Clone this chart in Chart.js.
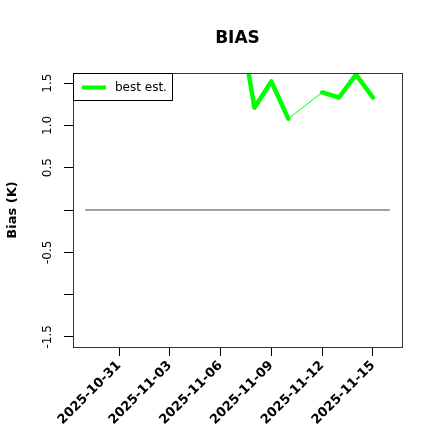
<!DOCTYPE html>
<html>
<head>
<meta charset="utf-8">
<script src="https://cdn.jsdelivr.net/npm/chart.js@4/dist/chart.umd.min.js"></script>
<style>
  html, body { margin: 0; padding: 0; background: #fff; }
  #wrap { width: 440px; height: 440px; }
</style>
</head>
<body>
<div id="wrap"><canvas id="biasChart" width="440" height="440"></canvas></div>
<script>
// data
const estDates = ['2025-11-07', '2025-11-08', '2025-11-09', '2025-11-10', '2025-11-11',
                  '2025-11-12', '2025-11-13', '2025-11-14', '2025-11-15'];
const estValues = [2.4, 1.21, 1.52, 1.08, null, 1.39, 1.33, 1.60, 1.33];
const zeroDates = ['2025-10-29', '2025-11-16'];
const zeroValues = [0, 0];
const xTickLabels = ['2025-10-31', '2025-11-03', '2025-11-06', '2025-11-09', '2025-11-12', '2025-11-15'];
const yTickValues = [-1.5, -1, -0.5, 0, 0.5, 1, 1.5];
const yTickLabels = ['-1.5', '', '-0.5', '', '0.5', '1.0', '1.5'];

const FONT = 'DejaVu Sans';
const dayNum = s => Date.parse(s + 'T00:00:00Z') / 864e5;
const toPoints = (dates, vals) => dates.map((d, i) => ({ x: dayNum(d), y: vals[i] }));
const xTickValues = xTickLabels.map(dayNum);

// box around plot + legend box, R style
const boxPlugin = {
    id: 'rbox',
    afterDraw(chart) {
        const ctx = chart.ctx;
        const a = chart.chartArea;
        ctx.save();
        ctx.strokeStyle = '#333';
        ctx.lineWidth = 1;
        ctx.strokeRect(a.left + 0.5, a.top + 0.5, a.right - a.left, a.bottom - a.top);

        // legend
        ctx.fillStyle = '#fff';
        ctx.fillRect(a.left, a.top, 99, 27);
        ctx.strokeStyle = '#000';
        ctx.strokeRect(a.left + 0.5, a.top + 0.5, 99, 27);
        ctx.strokeStyle = '#00ff00';
        ctx.lineWidth = 4;
        ctx.beginPath();
        ctx.moveTo(a.left + 9, a.top + 14.5);
        ctx.lineTo(a.left + 33, a.top + 14.5);
        ctx.stroke();
        ctx.fillStyle = '#000';
        ctx.font = '12px "' + FONT + '"';
        ctx.textBaseline = 'middle';
        ctx.fillText('best est.', a.left + 42, a.top + 14.5);
        ctx.restore();
    }
};

new Chart(document.getElementById('biasChart'), {
    type: 'line',
    data: {
        datasets: [
            {
                label: 'zero',
                data: toPoints(zeroDates, zeroValues),
                borderColor: '#808080',
                borderWidth: 1.3,
                pointRadius: 0
            },
            {
                label: 'best est. (all)',
                data: toPoints(estDates, estValues),
                borderColor: '#00ff00',
                borderWidth: 1,
                pointRadius: 0,
                spanGaps: true
            },
            {
                label: 'best est.',
                data: toPoints(estDates, estValues),
                borderColor: '#00ff00',
                borderWidth: 4.5,
                borderJoinStyle: 'round',
                borderCapStyle: 'round',
                pointRadius: 0,
                spanGaps: false
            }
        ]
    },
    options: {
        responsive: false,
        animation: false,
        layout: { padding: { left: 0, right: 38, top: 0, bottom: 0 } },
        plugins: {
            legend: { display: false },
            tooltip: { enabled: false },
            title: {
                display: true,
                text: 'BIAS',
                fullSize: false,
                color: '#000',
                font: { family: FONT, size: 17, weight: 'bold', lineHeight: 1.2 },
                padding: { top: 28, bottom: 24.6 }
            }
        },
        scales: {
            x: {
                type: 'linear',
                min: dayNum('2025-10-29') - 0.72,
                max: dayNum('2025-11-16') + 0.72,
                afterBuildTicks: scale => { scale.ticks = xTickValues.map(v => ({ value: v })); },
                afterFit: scale => { scale.height = 93; },
                grid: { drawOnChartArea: false, drawTicks: true, tickLength: 9, color: '#000' },
                border: { display: false },
                ticks: {
                    autoSkip: false,
                    minRotation: 45,
                    maxRotation: 45,
                    padding: 2,
                    color: '#000',
                    font: { family: FONT, size: 13, weight: 'bold' },
                    callback: (v, i) => xTickLabels[i]
                }
            },
            y: {
                min: -1.62,
                max: 1.62,
                afterBuildTicks: scale => { scale.ticks = yTickValues.map(v => ({ value: v })); },
                afterFit: scale => { scale.width = 73; },
                grid: { drawOnChartArea: false, drawTicks: true, tickLength: 9, color: '#000' },
                border: { display: false },
                title: {
                    display: true,
                    text: 'Bias (K)',
                    color: '#000',
                    font: { family: FONT, size: 13, weight: 'bold', lineHeight: 1.2 },
                    padding: { top: 5, bottom: 0 }
                },
                ticks: {
                    autoSkip: false,
                    minRotation: 90,
                    maxRotation: 90,
                    crossAlign: 'center',
                    padding: 4,
                    color: '#000',
                    font: { family: FONT, size: 12 },
                    callback: (v, i) => yTickLabels[i]
                }
            }
        }
    },
    plugins: [boxPlugin]
});
</script>
</body>
</html>
